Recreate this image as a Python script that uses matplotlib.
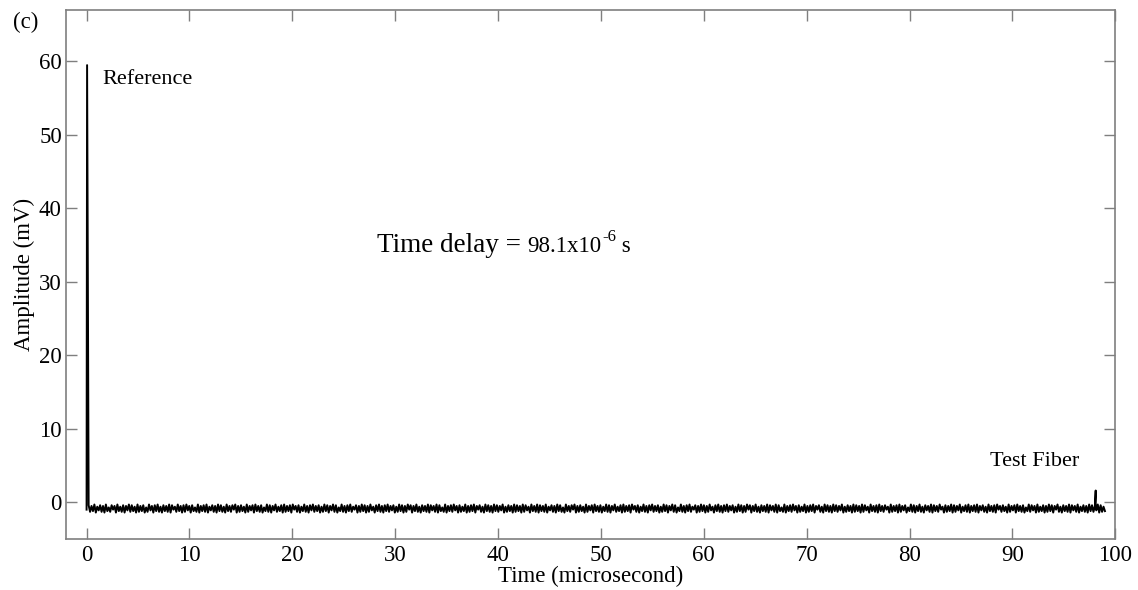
import numpy as np
import matplotlib
matplotlib.use("Agg")
import matplotlib.pyplot as plt
from matplotlib.transforms import offset_copy

plt.rcParams["font.family"] = ["Liberation Serif", "DejaVu Serif"]

# Reference pulse (start of trace), microseconds / mV
ref_time = [0.0, 0.05]
ref_amp = [-1.0, 59.5]

# Returned pulse from the test fiber
test_time = 98.1
test_amp = 1.6

# Baseline noise samples between the pulses (mV), evenly spaced in time
noise_start, noise_end = 0.2, 99.0
noise_amp = [
    -0.4, -1.3, -0.5, -1.2, -0.3, -1.4, -0.6, -1.1, -0.4, -1.3, -0.5, -1.4,
    -0.3, -1.2, -0.7, -1.3, -0.4, -1.0, -0.5, -1.4, -0.3, -1.2, -0.6, -1.3,
    -0.4, -1.4, -0.5, -1.1, -0.3, -1.3, -0.4, -1.2, -0.6, -1.4, -0.3, -1.3,
    -0.5, -1.2, -0.4, -1.4, -0.7, -1.3, -0.3, -1.1, -0.5, -1.4, -0.4, -1.2,
    -0.3, -1.3, -0.6, -1.4, -0.4, -1.2, -0.5, -1.3, -0.3, -1.4, -0.4, -1.0,
    -0.6, -1.3, -0.3, -1.2, -0.5, -1.4, -0.4, -1.3, -0.3, -1.1, -0.5, -1.4,
    -0.4, -1.2, -0.7, -1.3, -0.3, -1.4, -0.5, -1.2, -0.4, -1.3, -0.3, -1.4,
    -0.6, -1.1, -0.4, -1.3, -0.5, -1.4, -0.3, -1.2, -0.4, -1.3, -0.6, -1.4,
    -0.3, -1.2, -0.5, -1.3, -0.4, -1.0, -0.3, -1.4, -0.5, -1.3, -0.4, -1.2,
    -0.6, -1.4, -0.3, -1.3, -0.5, -1.1, -0.4, -1.4, -0.3, -1.2, -0.5, -1.3,
    -0.4, -1.4, -0.7, -1.2, -0.3, -1.3, -0.4, -1.4, -0.5, -1.1, -0.3, -1.3,
    -0.6, -1.2, -0.4, -1.4, -0.3, -1.3, -0.5, -1.2, -0.4, -1.4, -0.3, -1.0,
    -0.5, -1.3, -0.4, -1.4, -0.6, -1.2, -0.3, -1.3, -0.5, -1.4, -0.4, -1.1,
    -0.3, -1.3, -0.5, -1.2, -0.4, -1.4, -0.6, -1.3, -0.3, -1.2, -0.4, -1.4,
    -0.5, -1.1, -0.3, -1.3, -0.4, -1.4, -0.7, -1.2, -0.3, -1.3, -0.5, -1.4,
    -0.4, -1.2, -0.3, -1.3, -0.6, -1.0, -0.4, -1.4, -0.5, -1.3, -0.3, -1.2,
    -0.4, -1.4, -0.5, -1.3, -0.3, -1.1, -0.6, -1.4, -0.4, -1.2, -0.3, -1.3,
    -0.5, -1.4, -0.4, -1.2, -0.3, -1.3, -0.5, -1.1, -0.4, -1.4, -0.6, -1.3,
    -0.3, -1.2, -0.4, -1.4, -0.5, -1.3, -0.3, -1.0, -0.4, -1.4, -0.5, -1.2,
    -0.3, -1.3, -0.6, -1.4, -0.4, -1.2, -0.5, -1.3, -0.3, -1.4, -0.4, -1.1,
    -0.5, -1.3, -0.3, -1.4, -0.4, -1.2, -0.7, -1.3, -0.3, -1.4, -0.5, -1.2,
    -0.4, -1.3, -0.3, -1.1, -0.5, -1.4, -0.4, -1.3, -0.6, -1.2, -0.3, -1.4,
    -0.5, -1.3, -0.4, -1.2, -0.3, -1.4, -0.5, -1.0, -0.4, -1.3, -0.6, -1.4,
    -0.3, -1.2, -0.4, -1.3, -0.5, -1.4, -0.3, -1.2, -0.4, -1.3, -0.5, -1.1,
    -0.3, -1.4, -0.6, -1.3, -0.4, -1.2, -0.5, -1.4, -0.3, -1.3, -0.4, -1.2,
    -0.5, -1.4, -0.3, -1.3, -0.4, -1.1, -0.6, -1.4, -0.3, -1.2, -0.5, -1.3,
    -0.3, -1.4, -0.4, -1.2, -0.5, -1.3, -0.3, -1.4, -0.6, -1.1, -0.4, -1.3,
    -0.5, -1.4, -0.3, -1.2, -0.4, -1.3, -0.7, -1.4, -0.3, -1.2, -0.5, -1.3,
    -0.4, -1.0, -0.3, -1.4, -0.5, -1.3, -0.4, -1.2, -0.6, -1.4, -0.3, -1.3,
    -0.5, -1.1, -0.4, -1.4, -0.3, -1.2, -0.5, -1.3, -0.4, -1.4, -0.6, -1.2,
    -0.3, -1.3, -0.4, -1.4, -0.5, -1.1, -0.3, -1.3, -0.6, -1.2, -0.4, -1.4,
    -0.3, -1.3, -0.5, -1.2, -0.4, -1.4, -0.3, -1.0, -0.5, -1.3, -0.4, -1.4,
    -0.6, -1.2, -0.3, -1.3, -0.5, -1.4, -0.4, -1.1, -0.3, -1.3, -0.5, -1.2,
    -0.4, -1.4, -0.6, -1.3, -0.3, -1.2, -0.4, -1.4, -0.5, -1.1, -0.3, -1.3,
    -0.4, -1.4, -0.7, -1.2, -0.3, -1.3, -0.5, -1.4, -0.4, -1.2, -0.3, -1.3,
    -0.6, -1.0, -0.4, -1.4, -0.5, -1.3, -0.3, -1.2, -0.4, -1.4, -0.5, -1.3,
    -0.3, -1.1, -0.6, -1.4, -0.4, -1.2, -0.3, -1.3, -0.5, -1.4, -0.4, -1.2,
    -0.3, -1.3, -0.5, -1.1, -0.4, -1.4, -0.6, -1.3, -0.3, -1.2, -0.4, -1.4,
    -0.5, -1.3, -0.3, -1.0, -0.4, -1.4, -0.5, -1.2, -0.3, -1.3, -0.6, -1.4,
    -0.4, -1.2, -0.5, -1.3, -0.3, -1.4, -0.4, -1.1, -0.5, -1.3, -0.3, -1.4,
    -0.4, -1.2, -0.7, -1.3, -0.3, -1.4, -0.5, -1.2, -0.4, -1.3, -0.3, -1.1,
    -0.5, -1.4, -0.4, -1.3, -0.6, -1.2, -0.3, -1.4, -0.5, -1.3, -0.4, -1.2,
    -0.3, -1.4, -0.5, -1.0, -0.4, -1.3, -0.6, -1.4, -0.3, -1.2, -0.4, -1.3,
    -0.5, -1.4, -0.3, -1.2, -0.4, -1.3, -0.5, -1.1, -0.3, -1.4, -0.6, -1.3,
    -0.4, -1.2, -0.5, -1.4, -0.3, -1.3, -0.4, -1.2, -0.5, -1.4, -0.3, -1.3,
    -0.4, -1.1, -0.6, -1.4, -0.3, -1.2, -0.5, -1.3, -0.4, -1.4, -0.3, -1.2,
    -0.5, -1.3, -0.4, -1.0, -0.6, -1.4, -0.3, -1.3, -0.5, -1.2, -0.4, -1.4,
    -0.3, -1.3, -0.5, -1.1, -0.4, -1.4, -0.7, -1.2, -0.3, -1.3, -0.4, -1.4,
    -0.5, -1.2, -0.3, -1.3, -0.6, -1.4, -0.4, -1.1, -0.5, -1.3, -0.3, -1.4,
    -0.4, -1.2, -0.5, -1.3, -0.3, -1.0, -0.6, -1.4, -0.4, -1.3, -0.5, -1.2,
    -0.3, -1.4, -0.4, -1.3, -0.5, -1.1, -0.3, -1.4, -0.6, -1.2, -0.4, -1.3,
    -0.3, -1.4, -0.5, -1.2, -0.4, -1.3, -0.3, -1.4, -0.5, -1.1, -0.4, -1.3,
    -0.6, -1.4, -0.3, -1.2, -0.5, -1.3, -0.4, -1.4, -0.3, -1.0, -0.5, -1.3,
    -0.4, -1.2, -0.6, -1.4, -0.3, -1.3, -0.5, -1.1, -0.4, -1.4, -0.3, -1.2,
    -0.5, -1.3, -0.4, -1.4, -0.7, -1.2, -0.3, -1.3, -0.4, -1.1, -0.5, -1.4,
    -0.3, -1.3, -0.6, -1.2, -0.4, -1.4, -0.5, -1.3, -0.3, -1.2, -0.4, -1.4,
    -0.5, -1.0, -0.3, -1.3, -0.6, -1.4, -0.4, -1.2, -0.5, -1.3, -0.3, -1.4,
    -0.4, -1.1, -0.5, -1.3, -0.3, -1.4, -0.6, -1.2, -0.4, -1.3, -0.5, -1.4,
    -0.3, -1.2, -0.4, -1.3, -0.5, -1.1, -0.3, -1.4, -0.4, -1.3, -0.6, -1.2,
]

x_ticks = [0, 10, 20, 30, 40, 50, 60, 70, 80, 90, 100]
y_ticks = [0, 10, 20, 30, 40, 50, 60]

# Assemble the full trace
noise_time = np.linspace(noise_start, noise_end, len(noise_amp))
time = np.concatenate([ref_time, noise_time])
amp = np.concatenate([ref_amp, noise_amp])
idx = np.searchsorted(time, test_time)
time = np.insert(time, idx, [test_time, test_time])
amp = np.insert(amp, idx, [test_amp, amp[idx - 1]])

fig = plt.figure(figsize=(11.38, 5.90), dpi=100)
ax = fig.add_axes([0.058, 0.0864, 0.922, 0.8966])

ax.plot(time, amp, color="black", lw=1.4)

ax.set_xlim(-2, 100)
ax.set_ylim(-5, 67)
ax.set_xticks(x_ticks)
ax.set_yticks(y_ticks)

frame = "#7f7f7f"
for s in ax.spines.values():
    s.set_color(frame)
    s.set_linewidth(1.2)
ax.tick_params(direction="in", length=8, width=1.0, color=frame,
               top=True, right=True, labelsize=16.5, labelcolor="black")
ax.tick_params(axis="x", pad=4)
ax.tick_params(axis="y", pad=3)

ax.set_xlabel("Time (microsecond)", fontsize=16.5, labelpad=0)
ax.set_ylabel("Amplitude (mV)", fontsize=16.5)
ax.yaxis.set_label_coords(-0.03, 0.5)

ax.text(1.55, 57.6, "Reference", fontsize=16, va="center", ha="left")
ax.text(87.8, 5.5, "Test Fiber", fontsize=16, va="center", ha="left")

# Annotation: large prefix, smaller value with raised exponent
ann_x, ann_y = 28.2, 34.0
fig.canvas.draw()
inv = ax.transData.inverted()
t1 = ax.text(ann_x, ann_y, "Time delay = ", fontsize=19.5, va="baseline", ha="left")
fig.canvas.draw()
x1 = inv.transform(t1.get_window_extent().get_points()[1])[0]
t2 = ax.text(x1, ann_y, "98.1x10", fontsize=16.5, va="baseline", ha="left")
fig.canvas.draw()
x2 = inv.transform(t2.get_window_extent().get_points()[1])[0]
t3 = ax.text(x2, ann_y, "-6", fontsize=12,
             va="baseline", ha="left",
             transform=offset_copy(ax.transData, fig=fig, x=0.5, y=8, units="points"))
fig.canvas.draw()
x3 = inv.transform(t3.get_window_extent().get_points()[1])[0]
ax.text(x3, ann_y, " s", fontsize=16.5, va="baseline", ha="left")

fig.text(0.011, 0.962, "(c)", fontsize=16.5, va="center", ha="left")

fig.savefig("out.png", dpi=100)
